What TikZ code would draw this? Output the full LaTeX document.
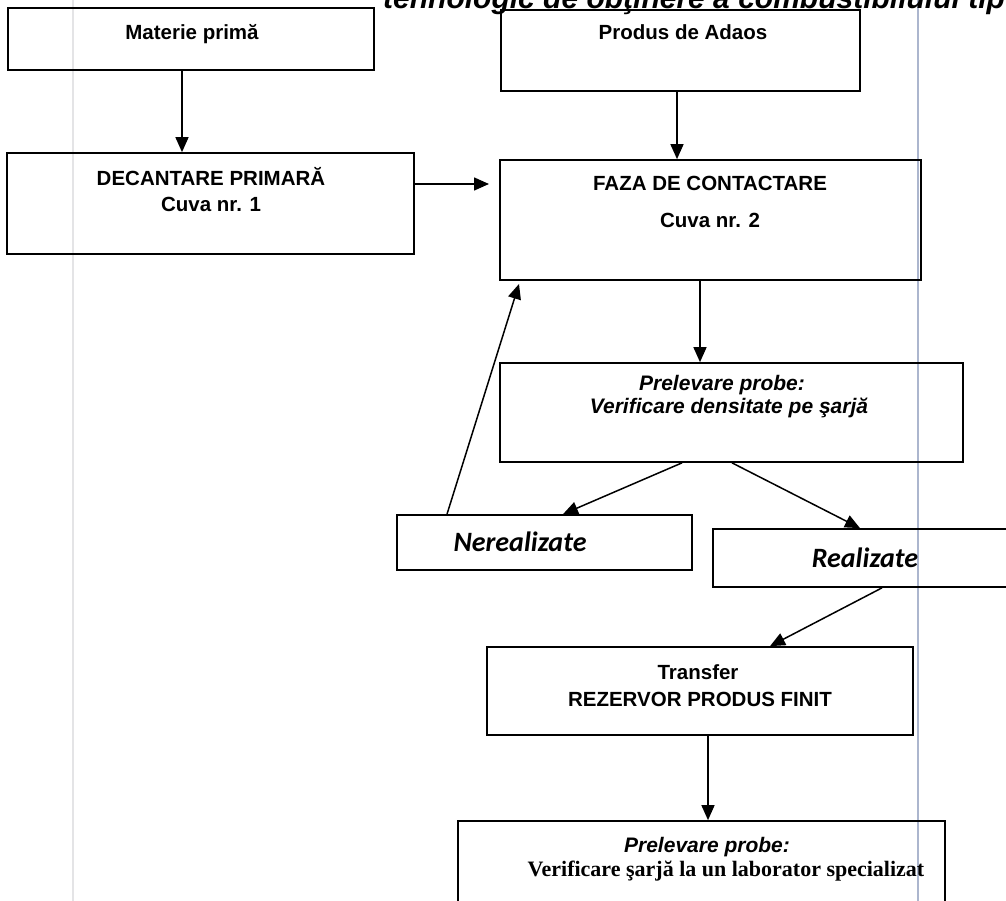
\documentclass[tikz,border=0pt]{standalone}
\usepackage{fontspec}
\setmainfont{Liberation Sans}
\newfontfamily\timesf{Liberation Serif}
\newfontfamily\calf{Carlito}
\usetikzlibrary{arrows.meta}
\definecolor{scanblue}{RGB}{172,182,206}
\definecolor{scangray}{RGB}{228,228,230}
\begin{document}
\begin{tikzpicture}[x=1pt,y=-1pt,
  box/.style={draw=black, line width=1.7pt, inner sep=0pt},
  arr/.style={line width=1.5pt, draw=black, -{Triangle[length=15pt,width=13pt]}},
  lbl/.style={inner sep=0pt, anchor=base, font=\fontsize{20.5}{24}\selectfont\bfseries},
  ilbl/.style={inner sep=0pt, anchor=base, font=\fontsize{21}{24}\selectfont\bfseries\itshape},
  clbl/.style={inner sep=0pt, anchor=base, font=\fontsize{28}{32}\selectfont\calf\bfseries\itshape},
  tlbl/.style={inner sep=0pt, anchor=base, font=\fontsize{22}{26}\selectfont\timesf\bfseries},
  ttl/.style={inner sep=0pt, anchor=base west, font=\fontsize{30}{34}\selectfont\bfseries\itshape},
  scanline/.style={line width=1.5pt}
]
\useasboundingbox (0,0) rectangle (1006,901);
\fill[white] (0,0) rectangle (1006,901);

% faint scan lines
\draw[scanline, draw=scangray] (73,0) -- (73,901);
\draw[scanline, draw=scanblue] (918,0) -- (918,901);

% partially cut title (only its lower part is visible in the reference)
\node[ttl] (title) at (383,9) {tehnologic de obţinere a combustibilului tip};

% boxes
\node[box, minimum width=366pt, minimum height=62pt] (mat) at (191,39) {};
\node[box, minimum width=359pt, minimum height=81pt] (pro) at (680.5,50.5) {};
\node[box, minimum width=407pt, minimum height=101pt] (dec) at (210.5,203.5) {};
\node[box, minimum width=421pt, minimum height=120pt] (faz) at (710.5,220) {};
\node[box, minimum width=463pt, minimum height=99pt] (pr1) at (731.5,412.5) {};
\node[box, minimum width=295pt, minimum height=55pt] (ner) at (544.5,542.5) {};
\node[box, minimum width=302pt, minimum height=58pt] (rea) at (864,558) {};
\node[box, minimum width=426pt, minimum height=88pt] (tra) at (700,691) {};
\node[box, minimum width=487pt, minimum height=99pt] (pr2) at (701.5,870.5) {};

% texts
\node[lbl] (tmat) at (192,40) {Materie primă};
\node[lbl] (tpro) at (683,40) {Produs de Adaos};
\node[lbl] (tdec1) at (211,186) {DECANTARE PRIMARĂ};
\node[lbl] (tdec2) at (211,212) {Cuva nr. 1};
\node[lbl] (tfaz1) at (710,191) {FAZA DE CONTACTARE};
\node[lbl] (tfaz2) at (710,228) {Cuva nr. 2};
\node[ilbl] (tpr1a) at (722,390) {Prelevare probe:};
\node[ilbl] (tpr1b) at (729,413) {Verificare densitate pe şarjă};
\node[clbl] (tner) at (520,551) {Nerealizate};
\node[clbl] (trea) at (865,567) {Realizate};
\node[lbl] (ttra1) at (698,679) {Transfer};
\node[lbl] (ttra2) at (700,706) {REZERVOR PRODUS FINIT};
\node[ilbl] (tpr2a) at (707,852) {Prelevare probe:};
\node[tlbl] (tpr2b) at (726,876) {Verificare şarjă la un laborator specializat};

% connector helper coordinates
\coordinate (c1) at (182,0);
\coordinate (c2) at (489,184);
\coordinate (c3) at (677,0);
\coordinate (c4) at (700,0);
\coordinate (c5a) at (682,0);
\coordinate (c5b) at (563,0);
\coordinate (c6a) at (732,0);
\coordinate (c6b) at (860,0);
\coordinate (c7a) at (447,0);
\coordinate (c7b) at (519,284);
\coordinate (c8a) at (882,0);
\coordinate (c8b) at (770,0);
\coordinate (c9) at (708,0);

% connectors
\draw[arr] (c1 |- mat.south) -- (c1 |- dec.north);
\draw[arr] (c2 -| dec.east) -- (c2);
\draw[arr] (c3 |- pro.south) -- (c3 |- faz.north);
\draw[arr] (c4 |- faz.south) -- (c4 |- pr1.north);
\draw[arr] (c5a |- pr1.south) -- (c5b |- ner.north);
\draw[arr] (c6a |- pr1.south) -- (c6b |- rea.north);
\draw[arr] (c7a |- ner.north) -- (c7b);
\draw[arr] (c8a |- rea.south) -- (c8b |- tra.north);
\draw[arr] (c9 |- tra.south) -- (c9 |- pr2.north);
\end{tikzpicture}
\end{document}
